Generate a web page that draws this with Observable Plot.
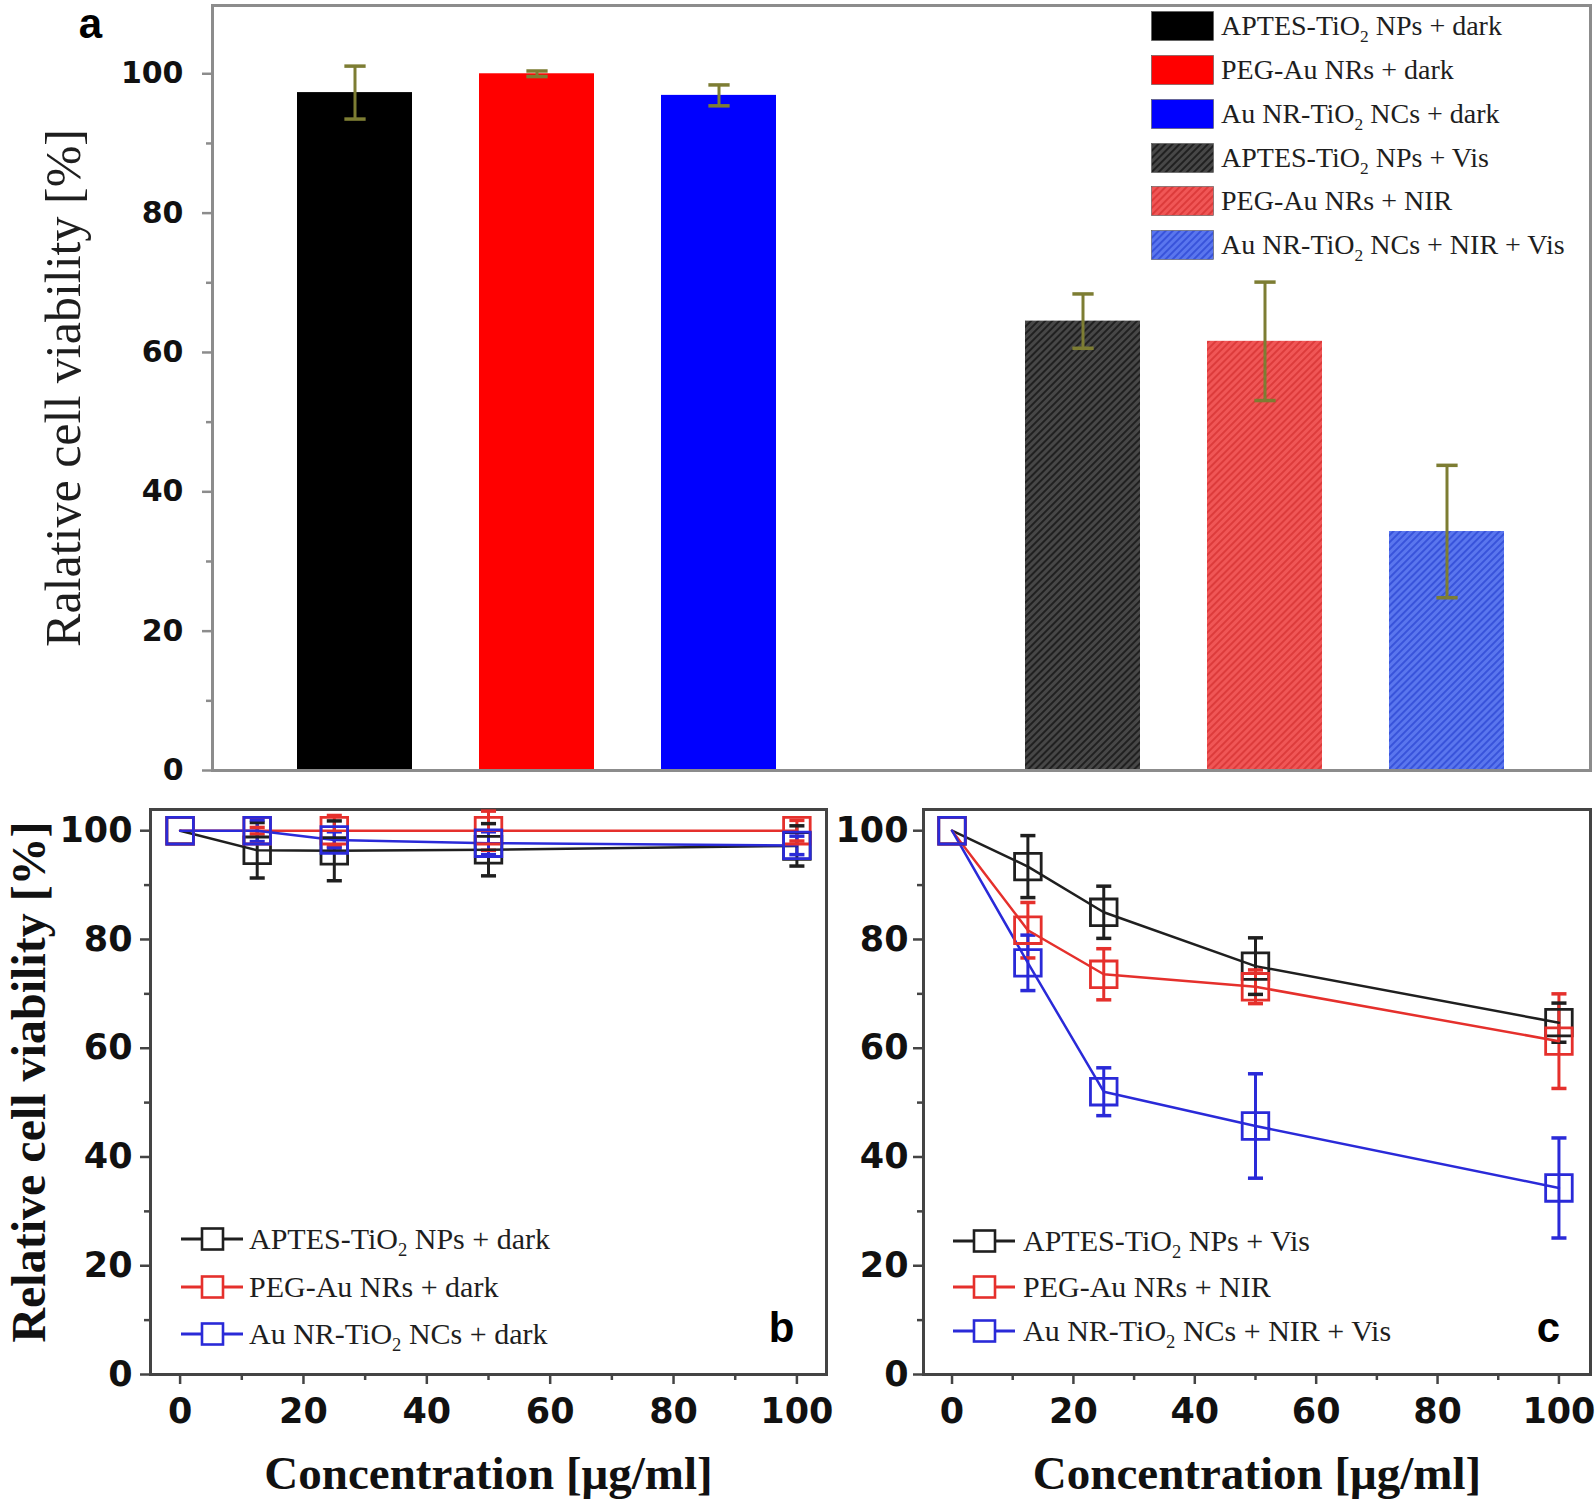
<!DOCTYPE html>
<html><head><meta charset="utf-8">
<script src="https://cdn.jsdelivr.net/npm/d3@7"></script>
<script src="https://cdn.jsdelivr.net/npm/@observablehq/plot@0.6"></script>
<style>
body{margin:0;background:#fff;}
#wrap{position:relative;width:1595px;height:1506px;overflow:hidden;background:#fff;}
.panel{position:absolute;}
.panel svg{overflow:visible;}
.leg{position:absolute;font-family:"Liberation Serif",serif;color:#1e1e1e;white-space:nowrap;line-height:1;}
.leg sub{font-size:0.62em;vertical-align:-0.4em;line-height:0;}
.leg svg{position:absolute;}
</style></head><body><div id="wrap"></div>
<script>
// ---------- data: panel a (bars) ----------
const barConditions = ["APTES-TiO2 NPs + dark", "PEG-Au NRs + dark", "Au NR-TiO2 NCs + dark",
                       "APTES-TiO2 NPs + Vis", "PEG-Au NRs + NIR", "Au NR-TiO2 NCs + NIR + Vis"];
const barValues = [97.3, 100.0, 96.9, 64.5, 61.6, 34.3];
const barErrors = [3.8, 0.4, 1.5, 3.9, 8.5, 9.5];
const barFills = ["#000000", "#ff0000", "#0000ff", "url(#hatchDark)", "url(#hatchRed)", "url(#hatchBlue)"];
const barYTicks = [0, 20, 40, 60, 80, 100];
const barYMinor = [10, 30, 50, 70, 90];

// ---------- data: panels b and c (lines) ----------
const concentrations = [0, 12.5, 25, 50, 100];
const xTicks = [0, 20, 40, 60, 80, 100];
const xMinor = [10, 30, 50, 70, 90];
const yTicks = [0, 20, 40, 60, 80, 100];
const yMinor = [10, 30, 50, 70, 90];

const darkSeries = ["APTES-TiO2 NPs + dark", "PEG-Au NRs + dark", "Au NR-TiO2 NCs + dark"];
const darkAptes = [100, 96.4, 96.3, 96.5, 97.2];
const darkAptesErr = [0, 5.1, 5.5, 4.8, 3.7];
const darkPeg = [100, 100, 100, 100, 100];
const darkPegErr = [0, 0.6, 2.8, 3.6, 1.9];
const darkNC = [100, 100, 98.3, 97.7, 97.3];
const darkNCErr = [0, 2.0, 1.5, 2.1, 1.7];

const lightSeries = ["APTES-TiO2 NPs + Vis", "PEG-Au NRs + NIR", "Au NR-TiO2 NCs + NIR + Vis"];
const lightAptes = [100, 93.4, 85.0, 75.1, 64.7];
const lightAptesErr = [0, 5.7, 4.8, 5.2, 3.6];
const lightPeg = [100, 81.7, 73.6, 71.3, 61.3];
const lightPegErr = [0, 5.1, 4.7, 3.1, 8.7];
const lightNC = [100, 75.7, 52.0, 45.7, 34.3];
const lightNCErr = [0, 5.1, 4.4, 9.6, 9.2];

const seriesColors = ["#1f1f1f", "#e5302c", "#2a2ad8"];
const errColorA = "#7d7d33";

// ---------- helpers ----------
const wrap = document.getElementById("wrap");
const fmt = s => s.replace("TiO2", "TiO<sub>2</sub>");
const capSymbol = {draw(ctx, size) { const w = Math.sqrt(size); ctx.moveTo(-w / 2, 0); ctx.lineTo(w / 2, 0); }};
const SANS = "Liberation Sans, Arial, sans-serif";
const TICKFONT = "DejaVu Sans, sans-serif";
const SERIF = "Liberation Serif, Times New Roman, serif";

function place(el, left, top) {
  const d = document.createElement("div");
  d.className = "panel";
  d.style.left = left + "px"; d.style.top = top + "px";
  d.appendChild(el);
  wrap.appendChild(d);
  return el;
}

// ---------- panel a ----------
const GAP = " ";
const barDomain = [...barConditions.slice(0, 3), GAP, ...barConditions.slice(3)];
const barData = barConditions.map((c, i) => ({cond: c, value: barValues[i], err: barErrors[i]}));

const plotA = Plot.plot({
  width: 1595, height: 790,
  marginLeft: 212, marginRight: 5, marginTop: 5, marginBottom: 20,
  style: {background: "transparent", fontFamily: SANS, overflow: "visible"},
  x: {type: "band", domain: barDomain, paddingInner: 0.367, paddingOuter: 0.46, axis: null},
  y: {domain: [0, 109.8], label: null},
  color: {domain: barConditions, range: barFills},
  marks: [
    Plot.barY(barData, {x: "cond", y: "value", fill: "cond"}),
    Plot.ruleX(barData, {x: "cond", y1: d => d.value - d.err, y2: d => d.value + d.err, stroke: errColorA, strokeWidth: 3}),
    Plot.dot(barData, {x: "cond", y: d => d.value - d.err, symbol: capSymbol, r: 12, fill: "none", stroke: errColorA, strokeWidth: 3.5}),
    Plot.dot(barData, {x: "cond", y: d => d.value + d.err, symbol: capSymbol, r: 12, fill: "none", stroke: errColorA, strokeWidth: 3.5}),
    Plot.frame({stroke: "#8c8c8c", strokeWidth: 3}),
    Plot.axisY({ticks: barYTicks, tickSize: 10, tickPadding: 19, stroke: "#8c8c8c", strokeWidth: 2.5,
      fontSize: 30, fontWeight: "bold", fontFamily: TICKFONT, fill: "#111", label: null}),
    Plot.axisY({ticks: barYMinor, tickSize: 6, tickFormat: () => "", stroke: "#8c8c8c", strokeWidth: 2.5, label: null}),
    Plot.text(["Ralative cell viability [%]"], {frameAnchor: "left", dx: -149, rotate: -90, textAnchor: "middle", lineAnchor: "middle",
      fontSize: 50, fontFamily: SERIF, fill: "#1e1e1e"}),
    Plot.text(["a"], {frameAnchor: "top-left", dx: -122, dy: 19, textAnchor: "middle", lineAnchor: "middle",
      fontSize: 42, fontWeight: "bold", fontFamily: SANS, fill: "#000"})
  ]
});

// hatch patterns
const defs = d3.select(plotA).insert("defs", ":first-child");
[["hatchDark", "#474747", "#161616"], ["hatchRed", "#f05656", "#d83434"], ["hatchBlue", "#5a76ee", "#2f4ad6"]].forEach(([id, base, line]) => {
  const p = defs.append("pattern").attr("id", id).attr("patternUnits", "userSpaceOnUse")
    .attr("width", 5).attr("height", 5).attr("patternTransform", "rotate(45)");
  p.append("rect").attr("width", 5).attr("height", 5).attr("fill", base);
  p.append("line").attr("x1", 1).attr("y1", 0).attr("x2", 1).attr("y2", 5).attr("stroke", line).attr("stroke-width", 1.6);
});
place(plotA, 0, 0);

// legend a
barConditions.forEach((c, i) => {
  const top = 26.4 + i * 43.7;
  const row = document.createElement("div");
  row.className = "leg";
  row.style.left = "1151px"; row.style.top = (top - 15) + "px"; row.style.height = "30px";
  row.innerHTML = `<svg width="63" height="30" style="left:0;top:0"><rect x="0.5" y="0.5" width="62" height="29" fill="${barFills[i]}" stroke="#555" stroke-width="0.6"/></svg>` +
    `<span style="position:absolute;left:70px;top:1px;font-size:28px;">${fmt(c)}</span>`;
  wrap.appendChild(row);
});

// ---------- panels b and c ----------
function rowsFor(names, vals, errs) {
  const out = [];
  names.forEach((name, i) => concentrations.forEach((x, j) => out.push({series: name, x, y: vals[i][j], err: errs[i][j]})));
  return out;
}

function linePanel({rows, names, width, marginLeft, marginRight, xDomain, yLabel, tag, tagDx, yPad}) {
  const errRows = rows.filter(d => d.err > 0);
  const marks = [
    Plot.frame({stroke: "#444", strokeWidth: 3}),
    Plot.axisX({ticks: xTicks, tickSize: 10, tickPadding: 14, stroke: "#444", strokeWidth: 2.5,
      fontSize: 35, fontWeight: "bold", fontFamily: TICKFONT, fill: "#111", label: null}),
    Plot.axisX({ticks: xMinor, tickSize: 6, tickFormat: () => "", stroke: "#444", strokeWidth: 2.5, label: null}),
    Plot.axisY({ticks: yTicks, tickSize: 10, tickPadding: yPad, stroke: "#444", strokeWidth: 2.5,
      fontSize: 35, fontWeight: "bold", fontFamily: TICKFONT, fill: "#111", label: null}),
    Plot.axisY({ticks: yMinor, tickSize: 6, tickFormat: () => "", stroke: "#444", strokeWidth: 2.5, label: null}),
    Plot.ruleX(errRows, {x: "x", y1: d => d.y - d.err, y2: d => d.y + d.err, stroke: "series", strokeWidth: 3}),
    Plot.dot(errRows, {x: "x", y: d => d.y - d.err, symbol: capSymbol, r: 8.5, fill: "none", stroke: "series", strokeWidth: 3.5}),
    Plot.dot(errRows, {x: "x", y: d => d.y + d.err, symbol: capSymbol, r: 8.5, fill: "none", stroke: "series", strokeWidth: 3.5}),
    Plot.line(rows, {x: "x", y: "y", z: "series", stroke: "series", strokeWidth: 2.5}),
    Plot.dot(rows, {x: "x", y: "y", symbol: "square", r: 15, fill: "none", stroke: "series", strokeWidth: 2.8}),
    Plot.text(["Concentration [μg/ml]"], {frameAnchor: "bottom", dy: 99, lineAnchor: "middle", fontSize: 47, fontWeight: "bold", fontFamily: SERIF, fill: "#111"}),
    Plot.text([tag], {frameAnchor: "bottom-right", dx: tagDx, dy: -46, textAnchor: "middle", lineAnchor: "middle",
      fontSize: 42, fontWeight: "bold", fontFamily: SANS, fill: "#000"})
  ];
  if (yLabel) marks.push(Plot.text([yLabel], {frameAnchor: "left", dx: 29 - marginLeft, dy: -10, rotate: -90,
    textAnchor: "middle", lineAnchor: "middle", fontSize: 48, fontWeight: "bold", fontFamily: SERIF, fill: "#111"}));
  return Plot.plot({
    width, height: 716, marginLeft, marginRight, marginTop: 19, marginBottom: 132,
    style: {background: "transparent", fontFamily: SANS, overflow: "visible"},
    x: {domain: xDomain, label: null},
    y: {domain: [0, 103.9], label: null},
    color: {domain: names, range: seriesColors},
    marks
  });
}

const rowsB = rowsFor(darkSeries, [darkAptes, darkPeg, darkNC], [darkAptesErr, darkPegErr, darkNCErr]);
const rowsC = rowsFor(lightSeries, [lightAptes, lightPeg, lightNC], [lightAptesErr, lightPegErr, lightNCErr]);

place(linePanel({rows: rowsB, names: darkSeries, width: 830, marginLeft: 150, marginRight: 4,
  xDomain: [-4.8, 104.8], yLabel: "Relative cell viability [%]", tag: "b", tagDx: -45, yPad: 8}), 0, 790);
place(linePanel({rows: rowsC, names: lightSeries, width: 765, marginLeft: 93, marginRight: 5,
  xDomain: [-4.7, 105.2], yLabel: null, tag: "c", tagDx: -42, yPad: 5}), 830, 790);

// line legends
function lineLegend(names, lineX0, textX, rowYs) {
  names.forEach((n, i) => {
    const cy = rowYs[i];
    const row = document.createElement("div");
    row.className = "leg";
    row.style.left = lineX0 + "px"; row.style.top = (cy - 15) + "px"; row.style.height = "30px";
    const col = seriesColors[i];
    row.innerHTML = `<svg width="64" height="30" style="left:0;top:0"><line x1="0" y1="15" x2="62" y2="15" stroke="${col}" stroke-width="2.8"/>` +
      `<rect x="21" y="4.5" width="21" height="21" fill="#fff" stroke="${col}" stroke-width="2.6"/></svg>` +
      `<span style="position:absolute;left:${textX - lineX0}px;top:0px;font-size:30px;">${fmt(n)}</span>`;
    wrap.appendChild(row);
  });
}
lineLegend(darkSeries, 181, 249, [1239, 1287, 1334]);
lineLegend(lightSeries, 953, 1023, [1241, 1287, 1331]);
</script></body></html>
